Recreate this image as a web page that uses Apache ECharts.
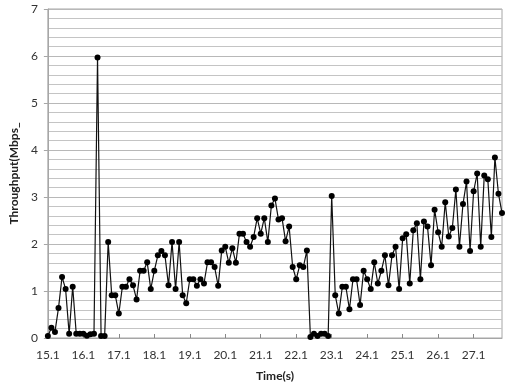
<!DOCTYPE html>
<html>
<head>
<meta charset="utf-8">
<script src="https://cdn.jsdelivr.net/npm/echarts@6/dist/echarts.min.js"></script>
<style>html,body{margin:0;padding:0;background:#fff;}#c{width:508px;height:387px;}</style>
</head>
<body>
<div id="c"></div>
<script>
const throughput = [
  0.04, 0.22, 0.13, 0.64, 1.30, 1.04, 0.09, 1.09, 0.09, 0.09,
  0.09, 0.05, 0.08, 0.09, 5.97, 0.04, 0.04, 2.04, 0.91, 0.91,
  0.52, 1.09, 1.09, 1.25, 1.12, 0.82, 1.43, 1.43, 1.61, 1.04,
  1.43, 1.76, 1.85, 1.76, 1.12, 2.04, 1.04, 2.04, 0.91, 0.74,
  1.25, 1.25, 1.11, 1.25, 1.16, 1.61, 1.61, 1.51, 1.11, 1.86,
  1.94, 1.60, 1.91, 1.60, 2.22, 2.22, 2.04, 1.94, 2.15, 2.55,
  2.22, 2.55, 2.04, 2.82, 2.97, 2.52, 2.55, 2.06, 2.37, 1.51,
  1.25, 1.55, 1.51, 1.86, 0.02, 0.09, 0.04, 0.09, 0.09, 0.04,
  3.02, 0.91, 0.52, 1.09, 1.09, 0.61, 1.25, 1.25, 0.70, 1.43,
  1.25, 1.04, 1.61, 1.16, 1.43, 1.76, 1.12, 1.76, 1.94, 1.04,
  2.12, 2.21, 1.16, 2.29, 2.44, 1.25, 2.48, 2.37, 1.55, 2.73,
  2.25, 1.94, 2.89, 2.16, 2.34, 3.16, 1.94, 2.85, 3.33, 1.85,
  3.12, 3.50, 1.94, 3.46, 3.38, 2.15, 3.84, 3.07, 2.66
];
const timeStart = 15.1;
const timeStep = 0.1;
const categories = throughput.map((_, i) => (timeStart + i * timeStep).toFixed(1));
const yTicks = [0, 1, 2, 3, 4, 5, 6, 7];

const chart = echarts.init(document.getElementById('c'), null, {renderer: 'canvas'});
const font = 'Lato, "Liberation Sans", sans-serif';
chart.setOption({
  animation: false,
  backgroundColor: '#ffffff',
  grid: {left: 44, right: 6, top: 9, bottom: 49, show: true, borderColor: '#a6a6a6', borderWidth: 1},
  xAxis: {
    type: 'category',
    data: categories,
    boundaryGap: false,
    name: 'Time(s)',
    nameLocation: 'middle',
    nameGap: 32,
    nameTextStyle: {fontFamily: font, fontSize: 12, fontWeight: 'bold', color: '#222'},
    axisLine: {show: true, lineStyle: {color: '#a6a6a6'}},
    axisTick: {show: true, inside: true, length: 4, interval: 9, alignWithLabel: true, lineStyle: {color: '#888'}},
    axisLabel: {interval: 9, margin: 11, fontFamily: font, fontSize: 12, color: '#333'},
    splitLine: {show: false}
  },
  yAxis: {
    type: 'value',
    min: yTicks[0],
    max: yTicks[yTicks.length - 1],
    interval: 1,
    name: 'Throughput(Mbps_',
    nameLocation: 'middle',
    nameGap: 24,
    nameTextStyle: {fontFamily: font, fontSize: 12, fontWeight: 'bold', color: '#222'},
    axisLine: {show: true, lineStyle: {color: '#a6a6a6'}},
    axisTick: {show: true, length: 4, lineStyle: {color: '#a6a6a6'}},
    axisLabel: {margin: 10, fontFamily: font, fontSize: 12, color: '#333'},
    splitLine: {show: true, lineStyle: {color: '#b8b8b8', width: 1}},
    minorTick: {show: false, splitNumber: 5},
    minorSplitLine: {show: true, lineStyle: {color: '#c4c4c4', width: 1}}
  },
  series: [{
    type: 'line',
    data: throughput,
    symbol: 'circle',
    symbolSize: 6,
    showAllSymbol: true,
    lineStyle: {color: '#111', width: 1.2},
    itemStyle: {color: '#000'}
  }]
});
</script>
</body>
</html>
